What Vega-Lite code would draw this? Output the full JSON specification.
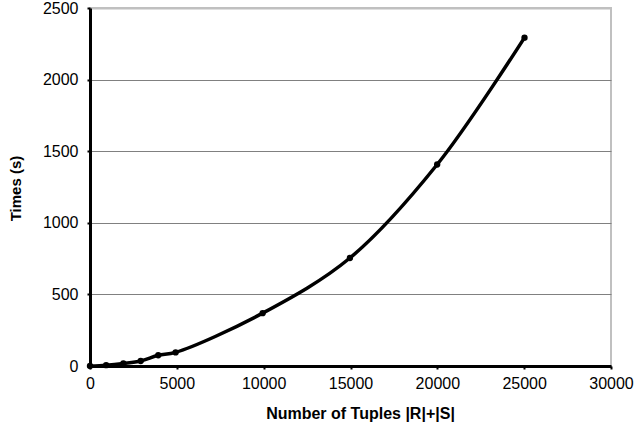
{
  "$schema": "https://vega.github.io/schema/vega-lite/v6.json",
  "width": 521,
  "height": 358,
  "autosize": {"type": "none"},
  "padding": {"left": 90, "top": 8, "right": 33, "bottom": 56},
  "background": "white",
  "config": {
    "view": {"stroke": "#c0c0c0", "strokeWidth": 2},
    "font": "Liberation Sans"
  },
  "data": {
    "values": [
      {"n": 0, "t": 0},
      {"n": 930, "t": 6},
      {"n": 1920, "t": 18},
      {"n": 2920, "t": 35},
      {"n": 3930, "t": 75},
      {"n": 4930, "t": 95},
      {"n": 9940, "t": 369},
      {"n": 14965, "t": 754},
      {"n": 19990, "t": 1407},
      {"n": 25020, "t": 2293}
    ]
  },
  "layer": [
    {
      "mark": {"type": "line", "interpolate": "catmull-rom", "color": "black", "strokeWidth": 3.5},
      "encoding": {
        "x": {
          "field": "n", "type": "quantitative",
          "scale": {"domain": [0, 30000], "nice": false},
          "axis": {
            "title": "Number of Tuples |R|+|S|",
            "titleFont": "Liberation Sans", "titleFontSize": 16, "titleFontWeight": "bold", "titleColor": "black",
            "titleX": 270, "titleY": 52, "titleBaseline": "alphabetic",
            "values": [0, 5000, 10000, 15000, 20000, 25000, 30000],
            "format": "d",
            "labelFont": "Liberation Sans", "labelFontSize": 16, "labelColor": "black",
            "labelPadding": 6,
            "grid": false,
            "domainColor": "black", "domainWidth": 3,
            "tickColor": "black", "tickSize": 3, "tickWidth": 2,
            "labelFlush": false,
            "encode": {"labels": {"update": {"dx": {"signal": "datum.value == 0 ? 1 : datum.value < 10000 ? 7 : 10.5"}}}}
          }
        },
        "y": {
          "field": "t", "type": "quantitative",
          "scale": {"domain": [0, 2500], "nice": false},
          "axis": {
            "title": "Times (s)",
            "titleFont": "Liberation Sans", "titleFontSize": 15, "titleFontWeight": "bold", "titleColor": "black",
            "titleX": -67, "titleY": 180, "titleBaseline": "bottom",
            "values": [0, 500, 1000, 1500, 2000, 2500],
            "format": "d",
            "labelFont": "Liberation Sans", "labelFontSize": 16, "labelColor": "black",
            "labelPadding": 9,
            "grid": true,
            "gridColor": {"condition": {"test": "datum.value == 2500", "value": "#c0c0c0"}, "value": "#808080"},
            "gridWidth": {"condition": {"test": "datum.value == 2500", "value": 2}, "value": 1},
            "domainColor": "black", "domainWidth": 3,
            "tickColor": "black", "tickSize": 3, "tickWidth": 2,
            "encode": {"labels": {"update": {"dy": {"value": 4}}}}
          }
        }
      }
    },
    {
      "mark": {"type": "point", "filled": true, "color": "black", "size": 40, "opacity": 1},
      "encoding": {
        "x": {"field": "n", "type": "quantitative"},
        "y": {"field": "t", "type": "quantitative"}
      }
    }
  ]
}
